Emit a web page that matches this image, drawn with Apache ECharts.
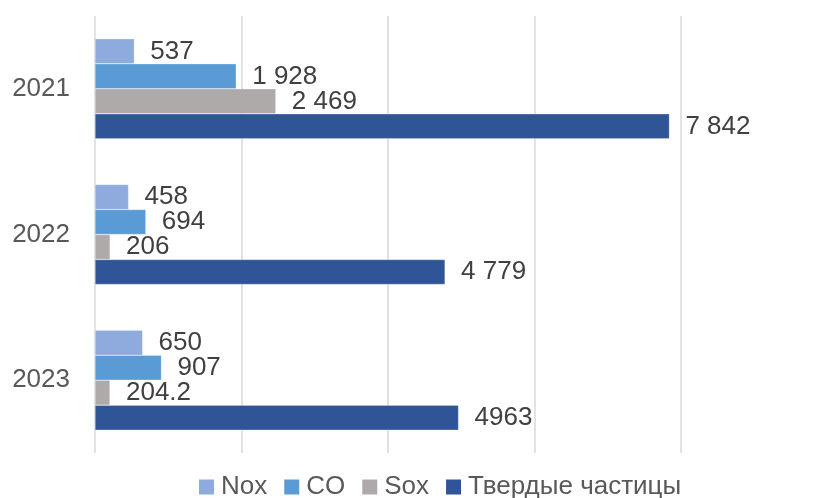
<!DOCTYPE html>
<html><head><meta charset="utf-8">
<script src="https://cdn.jsdelivr.net/npm/echarts@6/dist/echarts.min.js"></script>
<style>html,body{margin:0;padding:0;background:#fff}#c{width:821px;height:498px}</style>
</head><body><div id="c"></div>
<script>
const categories = ['2021', '2022', '2023'];
const seriesNames = ['Nox', 'CO', 'Sox', 'Твердые частицы'];
const noxValues = [537, 458, 650];
const coValues = [1928, 694, 907];
const soxValues = [2469, 206, 204.2];
const particlesValues = [7842, 4779, 4963];
const noxLabels = ['537', '458', '650'];
const coLabels = ['1 928', '694', '907'];
const soxLabels = ['2 469', '206', '204.2'];
const particlesLabels = ['7 842', '4 779', '4963'];
const xTicks = [0, 2000, 4000, 6000, 8000];

const colors = ['#8FAADC', '#5B9BD5', '#AEAAAA', '#2F5597'];
const allValues = [noxValues, coValues, soxValues, particlesValues];
const allLabels = [noxLabels, coLabels, soxLabels, particlesLabels];

const chart = echarts.init(document.getElementById('c'), null, {renderer: 'canvas'});
chart.setOption({
  animation: false,
  textStyle: {fontFamily: 'Liberation Sans, Arial, sans-serif'},
  legend: {
    bottom: -7, left: 194,
    itemWidth: 15, itemHeight: 15, itemGap: 17,
    icon: 'rect',
    textStyle: {fontSize: 26, color: '#595959', fontFamily: 'Liberation Sans, Arial, sans-serif', padding: [0, 0, 0, 2]},
    data: seriesNames.map(n => ({name: n, itemStyle: {borderWidth: 0}}))
  },
  grid: {left: 95, right: 140, top: 16, bottom: 45, containLabel: false},
  xAxis: {
    type: 'value', min: xTicks[0], max: xTicks[xTicks.length - 1], interval: 2000,
    axisLabel: {show: false}, axisLine: {show: false}, axisTick: {show: false},
    splitLine: {show: true, lineStyle: {color: '#d9d9d9', width: 1.5}}
  },
  yAxis: {
    type: 'category', data: categories, inverse: true,
    axisLine: {show: false}, axisTick: {show: false},
    axisLabel: {fontSize: 26, color: '#595959', margin: 25, fontFamily: 'Liberation Sans, Arial, sans-serif'}
  },
  series: seriesNames.map((name, i) => ({
    name: name, type: 'bar', barWidth: 25, barGap: '0%',
    data: allValues[i],
    itemStyle: {color: colors[i], borderColor: 'rgba(255,255,255,0.5)', borderWidth: 0.5},
    label: {
      show: true, position: 'right', distance: 16,
      fontSize: 26, color: '#404040', fontFamily: 'Liberation Sans, Arial, sans-serif',
      formatter: (p) => allLabels[i][p.dataIndex]
    }
  }))
});
</script></body></html>
